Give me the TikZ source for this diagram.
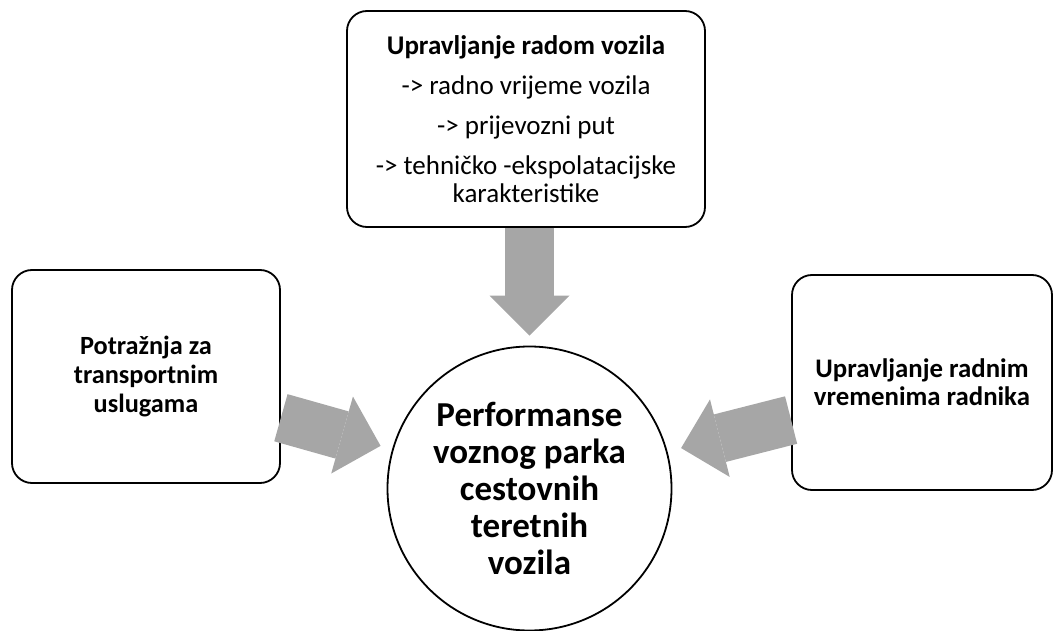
\documentclass[tikz,border=0pt]{standalone}
\usepackage{fontspec}
\setmainfont{Carlito}
\usetikzlibrary{arrows.meta,positioning}
\tikzset{>=stealth}
\definecolor{arrowgray}{HTML}{A6A6A6}

\begin{document}
\begin{tikzpicture}[x=1pt,y=-1pt,
    box/.style={draw, line width=1.8pt, rounded corners=20pt, align=center, inner sep=0pt, font=\fontsize{27}{28.5}\selectfont},
    hub/.style={draw, circle, line width=1.8pt, minimum size=284pt, inner sep=0pt, align=center, font=\fontsize{35}{37}\selectfont\bfseries},
    fat/.style={arrowgray, line width=49pt, -{Triangle[width=80pt,length=40pt,line width=0pt]}}]
    \useasboundingbox (0,0) rectangle (1053,631);
    \node[hub] (perf) at (529.5,488.5) {Performanse\\voznog parka\\cestovnih\\teretnih\\vozila};
    \node[box, minimum width=358pt, minimum height=216pt] (vehicle) at (526,119)
        {\textbf{Upravljanje radom vozila}\\[11.5pt] -> radno vrijeme vozila\\[11.5pt] -> prijevozni put\\[11.5pt] -> tehničko -ekspolatacijske\\ karakteristike};
    \node[box, font=\fontsize{26.3}{29}\selectfont\bfseries, minimum width=268pt, minimum height=213pt] (demand) at (146,376.5) {Potražnja za\\transportnim\\uslugama};
    \node[box, font=\fontsize{26.8}{28}\selectfont\bfseries, minimum width=260pt, minimum height=215pt] (labor) at (922,382.5) {Upravljanje radnim\\vremenima radnika};
    % thick grey arrows into the circle
    \draw[fat, shorten >=10pt] (vehicle.south -| perf.north) -- (perf.north);
    \draw[fat, shorten >=12pt] (demand.-17) -- (perf.164);
    \draw[fat, shorten >=14pt] (labor.196) -- (perf.15);
\end{tikzpicture}
\end{document}
